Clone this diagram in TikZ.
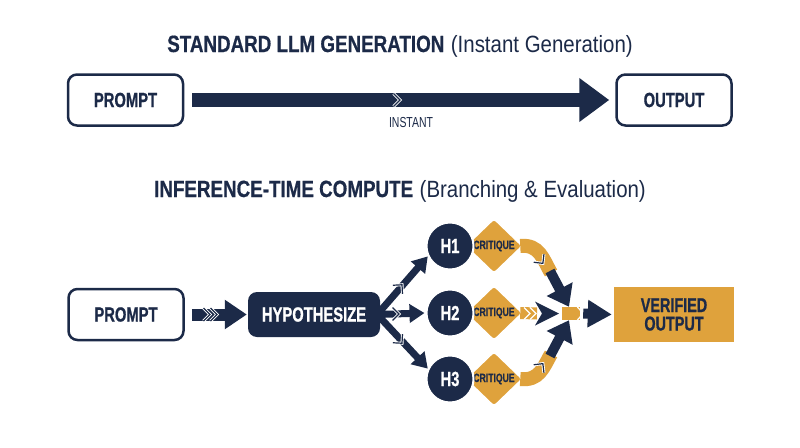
\documentclass[tikz,border=0pt]{standalone}
\usepackage{fontspec}
\setmainfont{Liberation Sans}
\newfontfamily\condf{Liberation Sans}[FakeStretch=0.72, BoldFeatures={FakeBold=0.8}]
\newfontfamily\tboldf{Liberation Sans}[FakeStretch=0.8, BoldFeatures={FakeBold=0.6}]
\newfontfamily\tregf{Liberation Sans}[FakeStretch=0.87]
\usetikzlibrary{shapes.geometric,arrows.meta}
\definecolor{navyc}{HTML}{1C2A48}
\definecolor{goldc}{HTML}{DFA23C}
\tikzset{
  navchev/.pic={\draw[white,line width=3pt] (-3.5,-6.5)--(3,0)--(-3.5,6.5);
                \draw[navyc,line width=1.2pt] (-3.5,-6.5)--(3,0)--(-3.5,6.5);},
  whchev/.pic={\draw[white,line width=1.2pt] (-3,-6)--(3,0)--(-3,6);},
  wbox/.style={draw=navyc, line width=2.5pt, rounded corners=9pt, fill=white, text=navyc,
    font=\condf\bfseries\fontsize{20.5}{22}\selectfont, minimum width=115pt, minimum height=51pt, inner sep=0pt},
  hnode/.style={circle, fill=navyc, draw=white, line width=2pt, minimum size=47pt, inner sep=0pt,
    text=white, font=\condf\bfseries\fontsize{20.5}{22}\selectfont},
  crit/.style={diamond, fill=goldc, draw=white, line width=1.5pt, minimum width=57pt, minimum height=55pt,
    inner sep=0pt, rounded corners=3pt, text=navyc, font=\condf\bfseries\fontsize{12}{13}\selectfont},
  ttl/.style={anchor=base, text=navyc, font=\fontsize{23.5}{26}\selectfont},
}
\begin{document}
\begin{tikzpicture}[x=1pt,y=-1pt]
\useasboundingbox (0,0) rectangle (800,447);
\fill[white] (0,0) rectangle (800,447);

% titles
\node[ttl] (t1) at (400,52) {{\tboldf\bfseries STANDARD LLM GENERATION} {\tregf(Instant Generation)}};
\node[ttl] (t2) at (400,197) {{\tboldf\bfseries INFERENCE-TIME COMPUTE} {\tregf(Branching \& Evaluation)}};

% top row
\node[wbox] (p1) at (125.5,100) {PROMPT};
\node[wbox] (o1) at (674,100) {OUTPUT};
\draw[navyc, line width=14pt, -{Triangle[length=30pt,width=42pt]}] ([xshift=8pt]p1.east) -- ([xshift=-6pt]o1.west);
\pic at (397,100) {navchev};
\node[anchor=base, text=navyc, font=\condf\fontsize{14.5}{16}\selectfont] (inst) at (411,127) {INSTANT};

% bottom row
\node[wbox] (p2) at (126,314.5) {PROMPT};
\node[fill=navyc, rounded corners=9pt, minimum width=132pt, minimum height=45pt, inner sep=0pt,
  text=white, font=\condf\bfseries\fontsize{20.5}{22}\selectfont] (hyp) at (314,314.5) {HYPOTHESIZE};
\draw[navyc, line width=12pt, -{Triangle[length=22pt,width=28pt]}] ([xshift=7pt]p2.east) -- ([xshift=-1pt]hyp.west);
\pic at (207,314.5) {navchev};
\pic at (214,314.5) {navchev};

% critiques (behind circles)
\node[crit] (c1) at (494,246) {CRITIQUE};
\node[crit] (c2) at (494,313) {CRITIQUE};
\node[crit] (c3) at (494,379) {CRITIQUE};

% hypotheses
\node[hnode] (h1) at (450,246) {H1};
\node[hnode] (h2) at (450,313) {H2};
\node[hnode] (h3) at (450,379) {H3};

% branches
\draw[navyc, line width=7pt, -{Triangle[length=15pt,width=18pt]}] ([xshift=-3pt]hyp.east) -- (h1.205);
\draw[navyc, line width=7pt, -{Triangle[length=15pt,width=18pt]}] ([xshift=-3pt]hyp.east) -- ([xshift=-1pt]h2.west);
\draw[navyc, line width=7pt, -{Triangle[length=15pt,width=18pt]}] ([xshift=-3pt]hyp.east) -- (h3.155);
\pic[rotate=48] at (400,287) {navchev};
\pic at (396,314) {navchev};
\pic[rotate=-48] at (400,341) {navchev};

% merge node
\node[fill=goldc, minimum width=18pt, minimum height=13pt, inner sep=0pt] (mg) at (571,313.5) {};
\draw[white, line width=1.2pt] ([xshift=-3pt]mg.north east) -- ([xshift=3pt]mg.east) -- ([xshift=-3pt]mg.south east);

% top curve
\coordinate (k1) at (551,273);
\draw[goldc, line width=14pt] ([xshift=-3pt]c1.east) .. controls +(19,-2) and +(-8,-14) .. (k1);
\draw[navyc, line width=10pt, -{Triangle[length=20pt,width=28pt]}] ([shift={(-1,-2)}]k1) -- ([xshift=-2pt]mg.north);
\pic[rotate=-52] at (541,261) {navchev};

% bottom curve
\coordinate (k3) at (551,354);
\draw[goldc, line width=14pt] ([xshift=-3pt]c3.east) .. controls +(19,2) and +(-8,14) .. (k3);
\draw[navyc, line width=10pt, -{Triangle[length=20pt,width=28pt]}] ([shift={(-1,2)}]k3) -- ([xshift=-2pt]mg.south);
\pic[rotate=52] at (541,366) {navchev};

% middle
\coordinate (k2) at (537,313.5);
\draw[goldc, line width=12pt] ([xshift=-3pt]c2.east) -- (k2);
\pic at (527,313.5) {whchev};
\pic at (533,313.5) {whchev};
\fill[navyc] ([xshift=-2pt]k2) ++(0,-12) -- ([xshift=22pt]k2) -- ([shift={(-2,12)}]k2) -- ([xshift=5pt]k2) -- cycle;

% verified output
\node[fill=goldc, minimum width=120pt, minimum height=55pt, inner sep=0pt, align=center, text=navyc,
  font=\condf\bfseries\fontsize{20}{18.5}\selectfont] (vo) at (674,314.5) {VERIFIED\\OUTPUT};
\draw[navyc, line width=10pt, -{Triangle[length=24pt,width=26pt]}] ([xshift=3pt]mg.east) -- ([xshift=-2pt]vo.west);
\end{tikzpicture}
\end{document}
